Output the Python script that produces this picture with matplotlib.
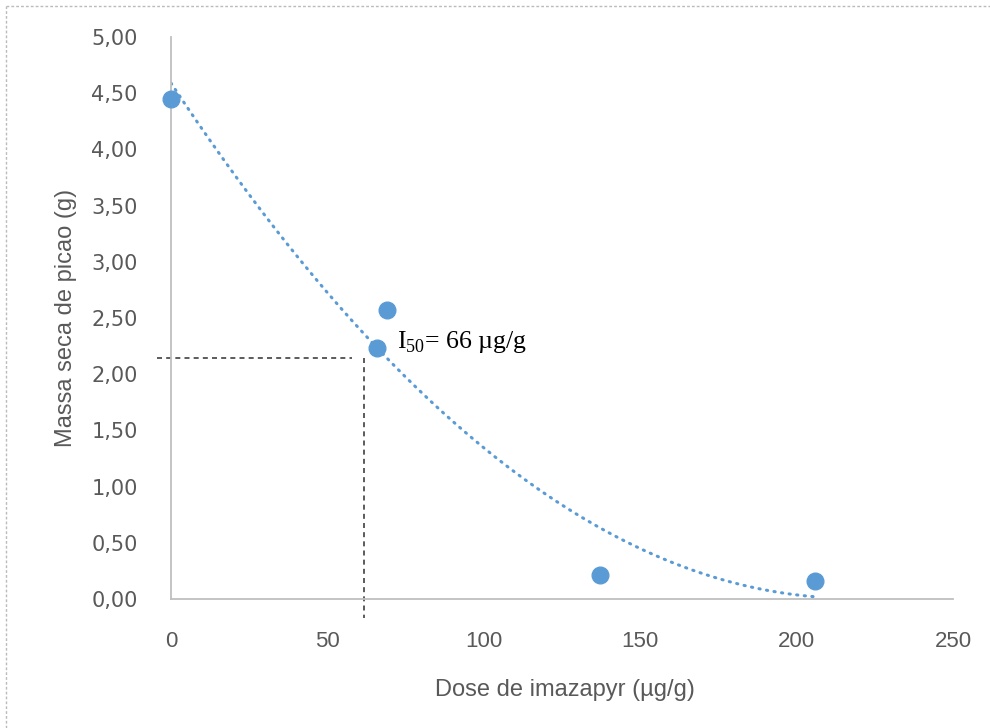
import numpy as np
import matplotlib
matplotlib.use("Agg")
import matplotlib.pyplot as plt
from matplotlib.lines import Line2D

# data
dose = [0, 66, 69, 137, 206]
massa = [4.45, 2.23, 2.57, 0.21, 0.16]
x_ticks = [0, 50, 100, 150, 200, 250]
y_ticks = [0, 0.5, 1.0, 1.5, 2.0, 2.5, 3.0, 3.5, 4.0, 4.5, 5.0]
i50_dose = 61.8
i50_massa = 2.14

blue = "#5B9BD5"
grey_txt = "#595959"

plt.rcParams["mathtext.fontset"] = "custom"
plt.rcParams["mathtext.rm"] = "Liberation Serif"

fig = plt.figure(figsize=(9.9, 7.28), dpi=100)
ax = fig.add_axes([171 / 990, 1 - 599 / 728, 782 / 990, 562 / 728])

# scatter points
ax.plot(dose, massa, "o", color=blue, markersize=12, zorder=3, clip_on=False)

# polynomial (2nd order) trend line, like excel
coef = np.polyfit(dose, massa, 2)
xs = np.linspace(min(dose), max(dose), 200)
ax.plot(xs, np.polyval(coef, xs), color=blue, lw=2.2, linestyle=(0, (0.4, 2.1)),
        dash_capstyle="round", zorder=2)

# I50 guide lines
ax.plot([-4.5, 58], [i50_massa, i50_massa], color="#404040", lw=1.2,
        linestyle=(0, (3, 2.5)), clip_on=False)
ax.plot([i50_dose, i50_dose], [i50_massa, -0.17], color="#404040", lw=1.2,
        linestyle=(0, (3, 2.5)), clip_on=False)

# I50 label
ax.text(72.4, 2.23, r"$\mathrm{I}_{\mathrm{50}}$= 66 µg/g", fontsize=18.5,
        family="Liberation Serif", color="black")

ax.set_xlim(0, 250)
ax.set_ylim(0, 5)
ax.set_xticks(x_ticks)
ax.set_yticks(y_ticks)
ax.set_xticklabels([str(v) for v in x_ticks], fontsize=16, family="Liberation Sans",
                   color=grey_txt)
ax.set_yticklabels([("%.2f" % v).replace(".", ",") for v in y_ticks], fontsize=15,
                   family="DejaVu Sans", color=grey_txt)
ax.tick_params(axis="x", length=0, pad=23)
ax.tick_params(axis="y", length=0, pad=24)

for s in ["top", "right"]:
    ax.spines[s].set_visible(False)
for s in ["left", "bottom"]:
    ax.spines[s].set_color("#BFBFBF")
    ax.spines[s].set_linewidth(1.3)

ax.set_xlabel("Dose de imazapyr (µg/g)", fontsize=17, family="Liberation Sans", color=grey_txt)
ax.set_ylabel("Massa seca de picao (g)", fontsize=17, family="Liberation Sans", color=grey_txt)
ax.xaxis.label.set_va("center")
ax.yaxis.label.set_va("center")
ax.xaxis.set_label_coords((565 - 171) / 782, (599 - 690) / 562)
ax.yaxis.set_label_coords((66 - 171) / 782, (599 - 318) / 562)

# dotted frame at top and left
fig.add_artist(Line2D([6 / 990, 1], [1 - 6 / 728, 1 - 6 / 728], color="#BBBBBB", lw=1,
                      linestyle=(0, (2, 1.5))))
fig.add_artist(Line2D([6 / 990, 6 / 990], [0, 1 - 6 / 728], color="#BBBBBB", lw=1,
                      linestyle=(0, (2, 1.5))))

fig.savefig("out.png", dpi=100)
